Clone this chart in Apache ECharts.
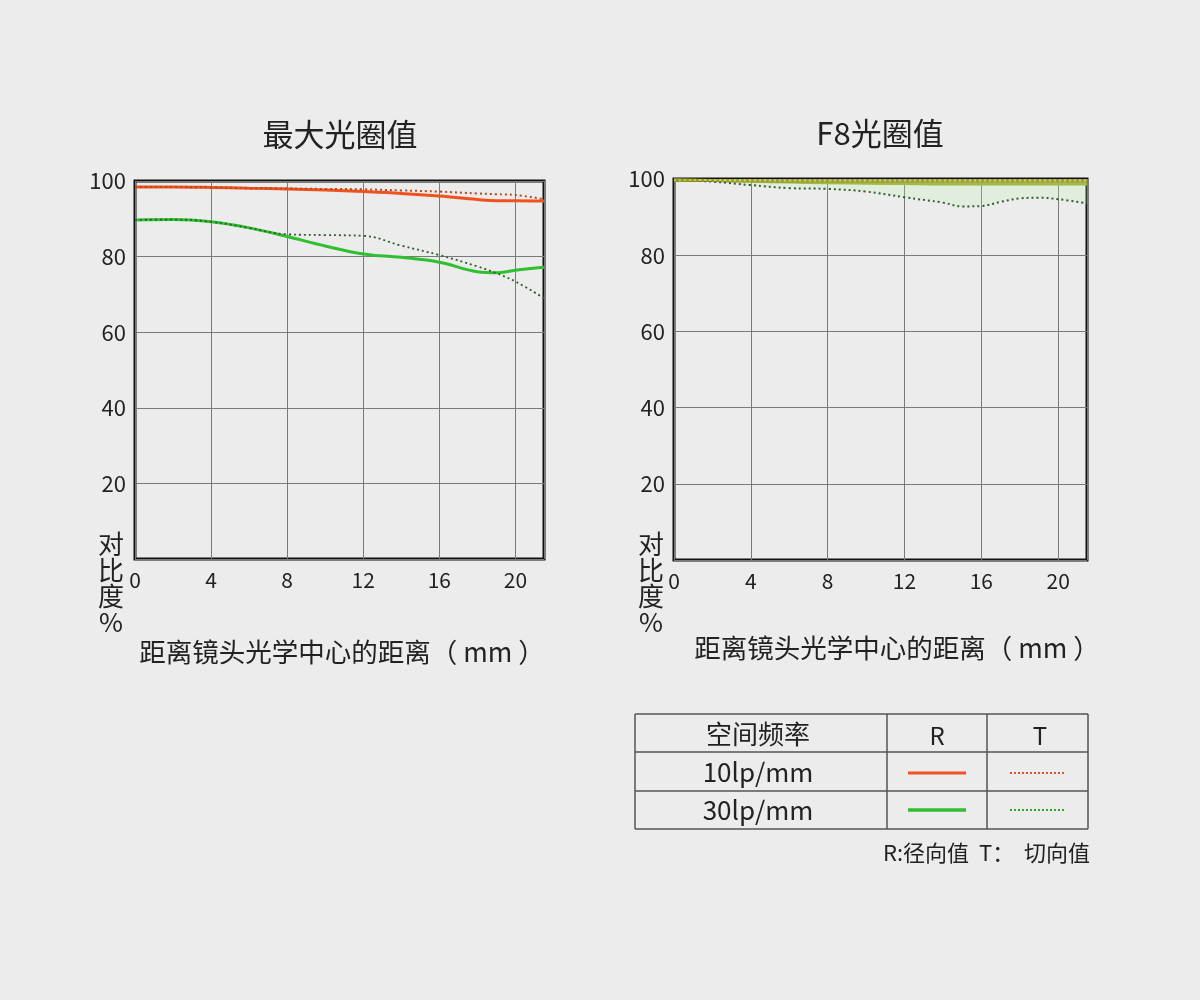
<!DOCTYPE html>
<html><head><meta charset="utf-8">
<script src="https://cdn.jsdelivr.net/npm/echarts@6/dist/echarts.min.js"></script>
<style>html,body{margin:0;padding:0;background:#ececec;}#c{width:1200px;height:1000px;}</style>
</head><body><div id="c"></div>
<script>
// ---- data ----
const xTicks = [0, 4, 8, 12, 16, 20];
const yTicks = [20, 40, 60, 80, 100];
const leftX  = [0, 2, 4, 6, 8, 10, 12, 14, 16, 18, 19, 20, 21.5];
const left10R = [98.4, 98.4, 98.3, 98.1, 97.9, 97.6, 97.2, 96.7, 96.0, 95.1, 94.8, 94.8, 94.7];
const left10T = [98.4, 98.4, 98.3, 98.1, 98.0, 97.9, 97.8, 97.5, 97.2, 96.7, 96.5, 96.3, 95.2];
const left30R = [89.7, 89.8, 89.2, 87.6, 85.3, 82.8, 80.7, 79.8, 78.5, 76.0, 75.7, 76.4, 77.2];
const left30T = [89.7, 89.8, 89.2, 87.6, 85.9, 85.7, 85.5, 82.9, 80.4, 77.4, 75.6, 73.4, 69.0];

const rightX  = [0, 2, 4, 6, 8, 10, 12, 14, 15, 16, 17, 18, 19, 20, 21.5];
const right10R = [99.7, 99.6, 99.5, 99.4, 99.4, 99.4, 99.4, 99.4, 99.4, 99.4, 99.4, 99.4, 99.4, 99.4, 99.4];
const right10T = [99.7, 99.7, 99.7, 99.6, 99.6, 99.6, 99.6, 99.6, 99.6, 99.6, 99.6, 99.6, 99.6, 99.6, 99.6];
const right30R = [99.8, 99.6, 99.4, 99.2, 99.0, 98.9, 98.8, 98.7, 98.7, 98.7, 98.7, 98.7, 98.7, 98.7, 98.7];
const right30T = [99.7, 99.3, 98.4, 97.6, 97.4, 96.7, 95.2, 93.8, 92.8, 92.9, 94.0, 94.9, 95.1, 94.7, 93.6];

const titles = ['最大光圈值', 'F8光圈值'];
const xName = '距离镜头光学中心的距离（ mm ）';
const yName = '对\n比\n度\n%';
const legendHead = ['空间频率', 'R', 'T'];
const legendRows = ['10lp/mm', '30lp/mm'];
const footnote = 'R:径向值  T：  切向值';

// ---- styles ----
const FONT = '"Noto Sans CJK SC", "Noto Sans", sans-serif';
const ORANGE = '#f0521e', GREEN = '#2fbf2f';
const pair = (xs, ys) => xs.map((x, i) => [x, ys[i]]);

function xAxis(gi) {
  return {
    type: 'value', gridIndex: gi, min: 0, max: 21.5, interval: 4,
    axisLine: { show: false }, axisTick: { show: false },
    splitLine: { show: true, lineStyle: { color: '#7a7a7a', width: 1 } },
    axisLabel: { margin: 11, fontSize: 21, color: '#222', fontFamily: FONT,
      formatter: v => (xTicks.indexOf(v) >= 0 ? String(v) : '') }
  };
}
function yAxis(gi) {
  return {
    type: 'value', gridIndex: gi, min: 0, max: 100, interval: 20,
    axisLine: { show: false }, axisTick: { show: false },
    splitLine: { show: true, lineStyle: { color: '#7a7a7a', width: 1 } },
    axisLabel: { margin: 9, fontSize: 22, color: '#222', fontFamily: FONT,
      formatter: v => (yTicks.indexOf(v) >= 0 ? String(v) : '') }
  };
}
function line(name, gi, data, color, width, dashed, extra) {
  return Object.assign({
    name, type: 'line', xAxisIndex: gi, yAxisIndex: gi, data, smooth: 0.4,
    showSymbol: false, symbol: 'none', z: dashed ? 4 : 3,
    lineStyle: { color, width, type: dashed ? [2, 3] : 'solid' }
  }, extra || {});
}

const gridDefs = [
  { left: 135, top: 181, width: 409, height: 378 },
  { left: 674, top: 179, width: 413, height: 381 }
];

const series = [
  line('10lp R', 0, pair(leftX, left10R), ORANGE, 3, false),
  line('30lp R', 0, pair(leftX, left30R), GREEN, 3, false),
  line('10lp T', 0, pair(leftX, left10T), '#b8481c', 2, true),
  line('30lp T', 0, pair(leftX, left30T), '#2d5e2d', 1.8, true),
  line('30lp T', 1, pair(rightX, right30T), '#2d5e2d', 2, true,
    { areaStyle: { origin: 'end', color: 'rgba(185,240,165,0.3)' } }),
  line('30lp R', 1, pair(rightX, right30R), '#9aae2c', 3, false),
  line('10lp R', 1, pair(rightX, right10R), '#8e8a1c', 3, false),
  line('10lp T', 1, pair(rightX, right10T), '#e6d24a', 2, true)
];

// legend table geometry
const TL = 635, TR = 1088, rowsY = [714, 752, 791, 829], colsX = [635, 887, 987, 1088];
const g = [];
const txt = (x, y, text, size, align, extra) => Object.assign({
  type: 'text', x, y, z: 10,
  style: { text, font: size + 'px ' + FONT, fill: '#222', align: align || 'center', verticalAlign: 'middle' }
}, extra || {});
g.push(txt(340, 134, titles[0], 31));
g.push(txt(880, 133, titles[1], 31));
g.push(txt(342, 652, xName, 26.5));
g.push(txt(897, 648, xName, 26.5));
g.push({ type: 'text', x: 111, y: 531, z: 10,
  style: { text: yName, font: '26px ' + FONT, lineHeight: 26, fill: '#222', align: 'center', verticalAlign: 'top' } });
g.push({ type: 'text', x: 651, y: 531, z: 10,
  style: { text: yName, font: '26px ' + FONT, lineHeight: 26, fill: '#222', align: 'center', verticalAlign: 'top' } });
// table
rowsY.forEach(y => g.push({ type: 'line', shape: { x1: TL, y1: y, x2: TR, y2: y }, style: { stroke: '#555', lineWidth: 1.5 } }));
colsX.forEach(x => g.push({ type: 'line', shape: { x1: x, y1: rowsY[0], x2: x, y2: rowsY[3] }, style: { stroke: '#555', lineWidth: 1.5 } }));
g.push(txt(758, 734, legendHead[0], 26));
g.push(txt(937, 736, legendHead[1], 24));
g.push(txt(1040, 736, legendHead[2], 24));
g.push(txt(758, 772, legendRows[0], 26));
g.push(txt(758, 810, legendRows[1], 26));
g.push({ type: 'line', shape: { x1: 908, y1: 773, x2: 966, y2: 773 }, style: { stroke: ORANGE, lineWidth: 3 } });
g.push({ type: 'line', shape: { x1: 1010, y1: 773, x2: 1066, y2: 773 }, style: { stroke: '#e0502a', lineWidth: 2, lineDash: [2, 2] } });
g.push({ type: 'line', shape: { x1: 908, y1: 810, x2: 966, y2: 810 }, style: { stroke: GREEN, lineWidth: 3.5 } });
g.push({ type: 'line', shape: { x1: 1010, y1: 810, x2: 1066, y2: 810 }, style: { stroke: '#2aa82a', lineWidth: 2, lineDash: [2, 2] } });
g.push(txt(1090, 853, footnote, 22, 'right'));

const chart = echarts.init(document.getElementById('c'), null, { renderer: 'canvas' });
chart.setOption({
  backgroundColor: '#ececec',
  animation: false,
  grid: gridDefs.map(d => Object.assign({ show: true, borderColor: '#111', borderWidth: 3, backgroundColor: 'transparent' }, d)),
  xAxis: [xAxis(0), xAxis(1)],
  yAxis: [yAxis(0), yAxis(1)],
  series,
  graphic: g
});
</script></body></html>
